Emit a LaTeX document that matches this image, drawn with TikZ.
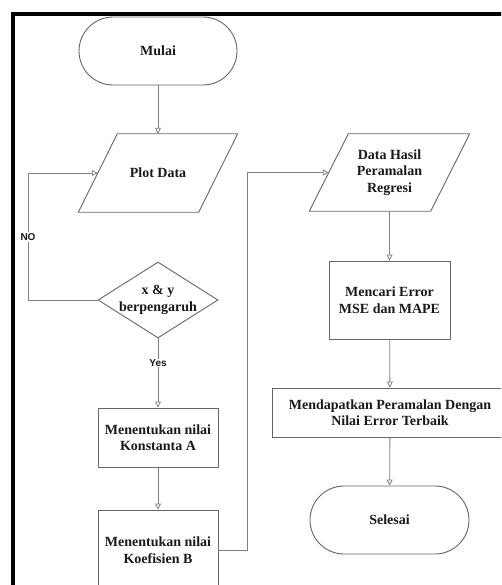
\documentclass[tikz,border=0pt]{standalone}
\usepackage{fontspec}
\setmainfont{Liberation Serif}
\newfontfamily\lsans{Liberation Sans}
\usetikzlibrary{shapes.geometric,arrows.meta}
\begin{document}
\begin{tikzpicture}[x=1pt,y=-1pt,
 shapeline/.style={draw=black!60, line width=0.9pt, fill=white},
 txt/.style={font=\fontsize{14}{16.5}\selectfont\bfseries, text=black!90, align=center},
 term/.style={shapeline, txt, rectangle, rounded corners=34pt, minimum width=158pt, minimum height=68pt},
 proc/.style={shapeline, txt, rectangle, minimum width=120pt},
 io/.style={txt, rectangle, minimum width=120pt, minimum height=78pt, inner sep=0pt},
 iobord/.style={draw=black!60, line width=0.9pt},
 decision/.style={shapeline, diamond, minimum width=120pt, minimum height=76pt, inner sep=0pt},
 conn/.style={draw=black!50, line width=0.8pt, -{Triangle[open,length=6pt,width=6pt]}},
 lbl/.style={font=\lsans\fontsize{10}{12}\selectfont\bfseries, fill=white, inner sep=1pt, text=black!90}
]
\useasboundingbox (0,0) rectangle (501,585);
\clip (0,0) rectangle (501,585);
\draw[line width=4pt] (13,590) -- (13,14.5) -- (505,14.5);

\node[term] (mulai) at (158,51) {Mulai};
\node[io] (plot) at (158,173) {Plot Data};
\draw[iobord] ([xshift=19.5pt]plot.north west) -- ([xshift=19.5pt]plot.north east)
  -- ([xshift=-19.5pt]plot.south east) -- ([xshift=-19.5pt]plot.south west) -- cycle;
\node[decision] (dec) at (158,300) {};
\node[txt] (dtext) at (158,300) {x \& y\\berpengaruh};
\node[proc, minimum height=59pt] (ka) at (158,437.5) {Menentukan nilai\\Konstanta A};
\node[proc, minimum height=80pt] (kb) at (158,550) {Menentukan nilai\\Koefisien B};

\node[io, minimum width=121pt, minimum height=77pt] (dh) at (389.5,172.5) {Data Hasil\\Peramalan\\Regresi};
\draw[iobord] ([xshift=19.5pt]dh.north west) -- ([xshift=19.5pt]dh.north east)
  -- ([xshift=-19.5pt]dh.south east) -- ([xshift=-19.5pt]dh.south west) -- cycle;
\node[proc, minimum width=121pt, minimum height=78pt] (me) at (389.5,300) {Mencari Error\\MSE dan MAPE};
\node[proc, minimum width=236pt, minimum height=49pt] (md) at (390,412.5) {Mendapatkan Peramalan Dengan\\Nilai Error Terbaik};
\node[term, minimum width=159pt] (se) at (389.5,520) {Selesai};

\coordinate (nob) at (28,300);
\coordinate (rb) at (247,550);

\draw[conn] (mulai) -- (plot);
\draw[conn] (dec.west) -- (nob) |- (plot.west);
\draw[conn] (dec) -- (ka);
\draw[conn] (ka) -- (kb);
\draw[conn] (kb.east) -- (rb) |- (dh.west);
\draw[conn] (dh) -- (me);
\draw[conn] (me) -- (md);
\draw[conn] (md) -- (se);

\node[lbl] (no) at (28,237) {NO};
\node[lbl] (yes) at (158,363) {Yes};
\end{tikzpicture}
\end{document}
